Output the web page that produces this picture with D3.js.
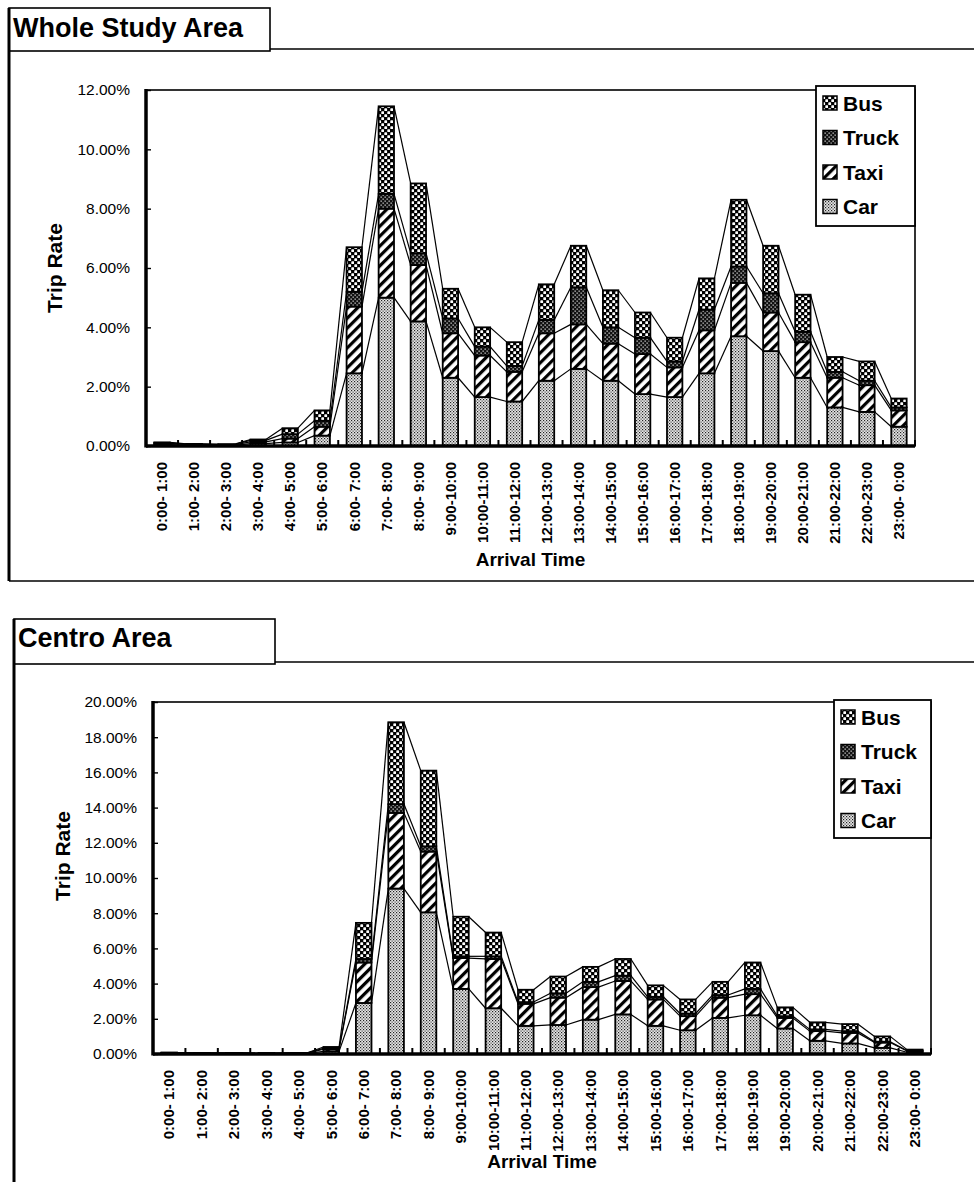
<!DOCTYPE html>
<html>
<head>
<meta charset="utf-8">
<script src="https://cdn.jsdelivr.net/npm/d3@7/dist/d3.min.js"></script>
<style>
  body { margin: 0; background: #fff; }
  svg { display: block; font-family: "Liberation Sans", Arial, sans-serif; }
</style>
</head>
<body>
<svg id="fig" width="974" height="1182"></svg>
<script>
// Hourly arrival-time slots
const timeLabels = [
  "0:00- 1:00", "1:00- 2:00", "2:00- 3:00", "3:00- 4:00", "4:00- 5:00", "5:00- 6:00",
  "6:00- 7:00", "7:00- 8:00", "8:00- 9:00", "9:00-10:00", "10:00-11:00", "11:00-12:00",
  "12:00-13:00", "13:00-14:00", "14:00-15:00", "15:00-16:00", "16:00-17:00", "17:00-18:00",
  "18:00-19:00", "19:00-20:00", "20:00-21:00", "21:00-22:00", "22:00-23:00", "23:00- 0:00"
];
// Stack order, bottom to top
const modes = ["Car", "Taxi", "Truck", "Bus"];

// Whole Study Area trip rates (%)
const wholeCar   = [0.05,0.03,0.02,0.08,0.12,0.35,2.45,5.00,4.20,2.30,1.65,1.50,2.20,2.60,2.20,1.75,1.65,2.45,3.70,3.20,2.30,1.30,1.15,0.65];
const wholeTaxi  = [0.04,0.02,0.02,0.06,0.13,0.30,2.25,3.00,1.90,1.50,1.40,1.00,1.60,1.50,1.25,1.35,1.00,1.45,1.80,1.30,1.20,1.00,0.90,0.55];
const wholeTruck = [0.02,0.01,0.01,0.05,0.15,0.20,0.50,0.50,0.40,0.50,0.30,0.20,0.45,1.25,0.55,0.55,0.20,0.70,0.55,0.65,0.35,0.20,0.15,0.10];
const wholeBus   = [0.01,0.01,0.01,0.03,0.20,0.35,1.50,2.95,2.35,1.00,0.65,0.80,1.20,1.40,1.25,0.85,0.80,1.05,2.25,1.60,1.25,0.50,0.65,0.30];
const wholeTicks = [0, 2, 4, 6, 8, 10, 12];

// Centro Area trip rates (%)
const centroCar   = [0.04,0.03,0.03,0.02,0.03,0.15,2.90,9.40,8.05,3.70,2.60,1.60,1.65,1.95,2.25,1.60,1.35,2.05,2.20,1.45,0.75,0.60,0.35,0.10];
const centroTaxi  = [0.02,0.01,0.01,0.01,0.01,0.12,2.30,4.30,3.45,1.75,2.80,1.25,1.55,1.85,1.90,1.50,0.80,1.15,1.20,0.60,0.55,0.60,0.30,0.07];
const centroTruck = [0.01,0.01,0.01,0.01,0.01,0.05,0.20,0.50,0.30,0.10,0.15,0.10,0.25,0.30,0.30,0.15,0.15,0.15,0.30,0.10,0.10,0.10,0.05,0.03];
const centroBus   = [0.01,0.01,0.01,0.01,0.01,0.08,2.05,4.65,4.30,2.25,1.35,0.70,0.95,0.85,0.95,0.65,0.80,0.75,1.50,0.50,0.40,0.40,0.30,0.05];
const centroTicks = [0, 2, 4, 6, 8, 10, 12, 14, 16, 18, 20];

const svg = d3.select("#fig");
const defs = svg.append("defs");

// Fill patterns for each mode
function addPattern(id, size, draw, transform) {
  const p = defs.append("pattern")
    .attr("id", id).attr("patternUnits", "userSpaceOnUse")
    .attr("width", size).attr("height", size);
  if (transform) p.attr("patternTransform", transform);
  draw(p);
}
addPattern("pat-Car", 3, p => {
  p.append("rect").attr("width", 3).attr("height", 3).attr("fill", "#e6e6e6");
  p.append("rect").attr("x", 0).attr("y", 0).attr("width", 1.2).attr("height", 1.2).attr("fill", "#222");
  p.append("rect").attr("x", 1.5).attr("y", 1.5).attr("width", 1.2).attr("height", 1.2).attr("fill", "#444");
});
addPattern("pat-Taxi", 7, p => {
  p.append("rect").attr("width", 7).attr("height", 7).attr("fill", "#fff");
  p.append("rect").attr("x", 0).attr("y", 0).attr("width", 3.2).attr("height", 7).attr("fill", "#000");
}, "rotate(45)");
addPattern("pat-Truck", 4, p => {
  p.append("rect").attr("width", 4).attr("height", 4).attr("fill", "#111");
  p.append("rect").attr("x", 0.5).attr("y", 0.5).attr("width", 1.3).attr("height", 1.3).attr("fill", "#ccc");
  p.append("rect").attr("x", 2.5).attr("y", 2.5).attr("width", 1.3).attr("height", 1.3).attr("fill", "#ccc");
});
addPattern("pat-Bus", 6, p => {
  p.append("rect").attr("width", 6).attr("height", 6).attr("fill", "#000");
  p.append("rect").attr("x", 0.3).attr("y", 0.3).attr("width", 2.8).attr("height", 2.8).attr("rx", 0.7).attr("fill", "#fff");
  p.append("rect").attr("x", 3.3).attr("y", 3.3).attr("width", 2.8).attr("height", 2.8).attr("rx", 0.7).attr("fill", "#fff");
});

function drawPanel(cfg) {
  const g = svg.append("g");

  // Panel frame and title tab
  g.append("line").attr("x1", cfg.frameX).attr("x2", cfg.frameX)
    .attr("y1", cfg.tabTop).attr("y2", cfg.frameBottom)
    .attr("stroke", "#000").attr("stroke-width", 3);
  g.append("rect").attr("x", cfg.frameX).attr("y", cfg.tabTop)
    .attr("width", cfg.tabRight - cfg.frameX).attr("height", cfg.tabBottom - cfg.tabTop)
    .attr("fill", "none").attr("stroke", "#000").attr("stroke-width", 1.6);
  g.append("line").attr("x1", cfg.tabRight).attr("x2", 974)
    .attr("y1", cfg.tabBottom - 2).attr("y2", cfg.tabBottom - 2)
    .attr("stroke", "#000").attr("stroke-width", 1.4);
  if (cfg.frameBottomLine) {
    g.append("line").attr("x1", cfg.frameX).attr("x2", 974)
      .attr("y1", cfg.frameBottom).attr("y2", cfg.frameBottom)
      .attr("stroke", "#000").attr("stroke-width", 1.4);
  }
  g.append("text").attr("x", cfg.frameX + 4).attr("y", cfg.titleY)
    .attr("font-size", 27).attr("font-weight", "bold").text(cfg.title);

  const rows = timeLabels.map((t, i) => {
    const r = { t };
    modes.forEach((m, k) => { r[m] = cfg.values[k][i]; });
    return r;
  });
  const stacked = d3.stack().keys(modes)(rows);

  const x = d3.scaleBand().domain(timeLabels).range([cfg.left, cfg.right]).padding(0);
  const y = d3.scaleLinear().domain([0, d3.max(cfg.ticks)]).range([cfg.bottom, cfg.top]);
  const bw = x.bandwidth() * 0.48;
  const off = (x.bandwidth() - bw) / 2;

  // Plot area border
  g.append("rect").attr("x", cfg.left).attr("y", cfg.top)
    .attr("width", cfg.right - cfg.left).attr("height", cfg.bottom - cfg.top)
    .attr("fill", "#fff").attr("stroke", "#000").attr("stroke-width", 1.6);

  // Stacked bars
  const layers = g.append("g").selectAll("g").data(stacked).join("g")
    .attr("fill", d => `url(#pat-${d.key})`);
  layers.selectAll("rect").data(d => d).join("rect")
    .attr("x", d => x(d.data.t) + off)
    .attr("y", d => y(d[1]))
    .attr("width", bw)
    .attr("height", d => Math.max(0, y(d[0]) - y(d[1])))
    .attr("stroke", "#000").attr("stroke-width", 1.8);

  // Series lines joining the top of each layer between neighbouring bars
  stacked.forEach(s => {
    for (let i = 0; i < s.length - 1; i++) {
      g.append("line")
        .attr("x1", x(timeLabels[i]) + off + bw).attr("y1", y(s[i][1]))
        .attr("x2", x(timeLabels[i + 1]) + off).attr("y2", y(s[i + 1][1]))
        .attr("stroke", "#000").attr("stroke-width", 1.2);
    }
  });

  // Y axis
  const yAxis = g.append("g").attr("transform", `translate(${cfg.left},0)`)
    .call(d3.axisLeft(y).tickValues(cfg.ticks).tickSize(-5).tickPadding(16)
      .tickFormat(d => d.toFixed(2) + "%"));
  yAxis.select(".domain").remove();
  yAxis.selectAll(".tick line").attr("stroke-width", 1.4);
  yAxis.selectAll("text").attr("font-size", 15.5).attr("fill", "#000");
  g.append("line").attr("x1", cfg.left).attr("x2", cfg.left)
    .attr("y1", cfg.top - 1).attr("y2", cfg.bottom + 1.5)
    .attr("stroke", "#000").attr("stroke-width", 3.5);

  // X axis: labels rotated, ticks at slot boundaries pointing inward
  const xAxis = g.append("g").attr("transform", `translate(0,${cfg.bottom})`)
    .call(d3.axisBottom(x).tickSize(0).tickPadding(0));
  xAxis.select(".domain").remove();
  xAxis.selectAll("text")
    .attr("transform", "translate(0,16) rotate(-90)")
    .attr("text-anchor", "end").attr("dy", "0.35em").attr("y", 0).attr("x", 0)
    .attr("font-size", 15).attr("font-weight", "bold").attr("fill", "#000");
  const bounds = timeLabels.map(t => x(t)).concat([cfg.right]);
  g.append("g").selectAll("line").data(bounds).join("line")
    .attr("x1", d => d).attr("x2", d => d)
    .attr("y1", cfg.bottom).attr("y2", cfg.bottom - 6)
    .attr("stroke", "#000").attr("stroke-width", 2);
  g.append("line").attr("x1", cfg.left).attr("x2", cfg.right)
    .attr("y1", cfg.bottom).attr("y2", cfg.bottom)
    .attr("stroke", "#000").attr("stroke-width", 3.5);

  // Axis titles
  g.append("text").attr("x", (cfg.left + cfg.right) / 2).attr("y", cfg.xTitleY)
    .attr("text-anchor", "middle").attr("font-size", 19).attr("font-weight", "bold")
    .text("Arrival Time");
  g.append("text")
    .attr("transform", `translate(${cfg.yTitleX},${cfg.yTitleY}) rotate(-90)`)
    .attr("text-anchor", "middle").attr("font-size", 21).attr("font-weight", "bold")
    .text("Trip Rate");

  // Legend
  const lg = g.append("g");
  lg.append("rect").attr("x", cfg.legX).attr("y", cfg.legY)
    .attr("width", cfg.legW).attr("height", cfg.legH)
    .attr("fill", "#fff").attr("stroke", "#000").attr("stroke-width", 1.8);
  modes.slice().reverse().forEach((m, i) => {
    const cy = cfg.legY + 17 + i * 34.5;
    lg.append("rect").attr("x", cfg.legX + 7).attr("y", cy - 7)
      .attr("width", 14).attr("height", 14)
      .attr("fill", `url(#pat-${m})`).attr("stroke", "#000").attr("stroke-width", 1.5);
    lg.append("text").attr("x", cfg.legX + 27).attr("y", cy).attr("dy", "0.36em")
      .attr("font-size", 21).attr("font-weight", "bold").text(m);
  });
}

drawPanel({
  title: "Whole Study Area",
  values: [wholeCar, wholeTaxi, wholeTruck, wholeBus],
  ticks: wholeTicks,
  frameX: 9, tabTop: 8, tabBottom: 51, tabRight: 270, titleY: 37,
  frameBottom: 581, frameBottomLine: true,
  left: 146, right: 915, top: 90, bottom: 446,
  xTitleY: 566, yTitleX: 62, yTitleY: 268,
  legX: 816, legY: 86, legW: 99, legH: 140
});

drawPanel({
  title: "Centro Area",
  values: [centroCar, centroTaxi, centroTruck, centroBus],
  ticks: centroTicks,
  frameX: 14, tabTop: 619, tabBottom: 664, tabRight: 275, titleY: 647,
  frameBottom: 1182, frameBottomLine: false,
  left: 153, right: 931, top: 702, bottom: 1054,
  xTitleY: 1168, yTitleX: 70, yTitleY: 856,
  legX: 834, legY: 700, legW: 97, legH: 138
});
</script>
</body>
</html>
